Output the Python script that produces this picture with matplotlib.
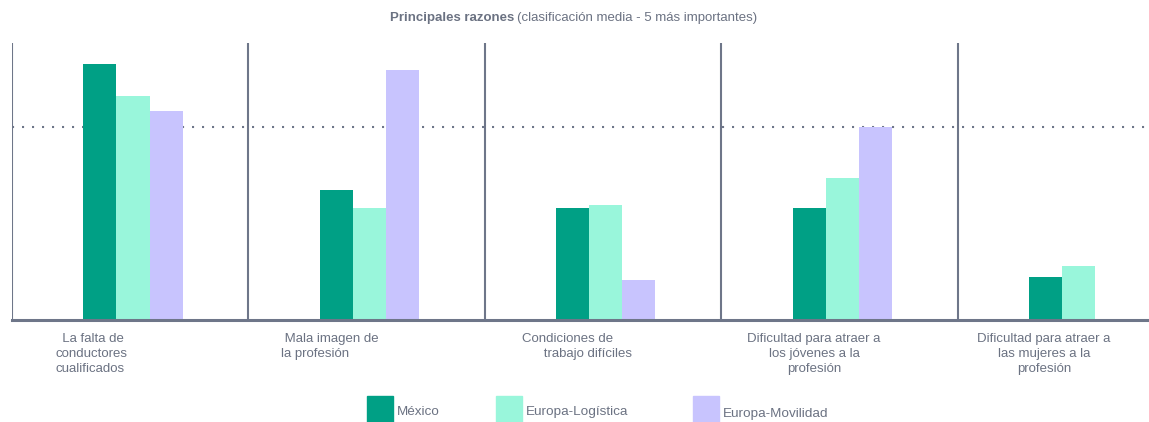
import numpy as np
import matplotlib
matplotlib.use('Agg')
import matplotlib.pyplot as plt
from matplotlib.patches import Rectangle

# values (relative scale, clasificación media)
categories = ['La falta de conductores cualificados', 'Mala imagen de la profesión',
              'Condiciones de trabajo difíciles', 'Dificultad para atraer a los jóvenes a la profesión',
              'Dificultad para atraer a las mujeres a la profesión']
series_names = ['México', 'Europa-Logística', 'Europa-Movilidad']
mexico = [2.56, 1.30, 1.12, 1.12, 0.43]
logistica = [2.24, 1.12, 1.15, 1.42, 0.54]
movilidad = [2.09, 2.50, 0.40, 1.93, np.nan]
reference = 1.93

colors = ['#00a085', '#99f6db', '#c8c4fe']
axis_col = '#6e7689'
text_col = '#6b7282'

plt.rcParams['font.family'] = ['Liberation Sans', 'DejaVu Sans']

W, H = 1149, 422
fig = plt.figure(figsize=(W / 100, H / 100), dpi=100)
# axes runs past the right edge like the original
ax = fig.add_axes([12 / W, (H - 320) / H, (1194 - 12) / W, (320 - 43) / H])

x = np.arange(len(categories))
bw = 0.14
for i, vals in enumerate([mexico, logistica, movilidad]):
    ax.bar(x + (i - 1) * bw + 0.012, vals, width=bw, color=colors[i], linewidth=0, zorder=2)

ax.set_xlim(-0.5, len(categories) - 0.5)
ax.set_ylim(0, 2.77)
for sep in np.arange(-0.5, len(categories) - 0.5, 1.0):
    ax.axvline(sep, color=axis_col, lw=1.5, zorder=3)
ax.axhline(reference, color=axis_col, lw=1.5, ls=(0, (1, 3.8)), zorder=1)

for s in ['top', 'right', 'left']:
    ax.spines[s].set_visible(False)
ax.spines['bottom'].set_color(axis_col)
ax.spines['bottom'].set_linewidth(2.2)
ax.set_xticks([])
ax.set_yticks([])

# category labels (kept with the original's odd line layout)
lab_kw = dict(fontsize=9.5, color=text_col, va='top', linespacing=1.35)
fig.text(55 / W, 1 - 333 / H, '  La falta de\nconductores\ncualificados', ha='left', **lab_kw)
fig.text(281 / W, 1 - 333 / H, ' Mala imagen de\nla profesión', ha='left', **lab_kw)
fig.text(522 / W, 1 - 333 / H, 'Condiciones de\n      trabajo difíciles', ha='left', **lab_kw)
fig.text(814 / W, 1 - 333 / H, 'Dificultad para atraer a\nlos jóvenes a la\nprofesión', ha='center',
         multialignment='center', **lab_kw)
fig.text(1044 / W, 1 - 333 / H, 'Dificultad para atraer a\nlas mujeres a la\nprofesión', ha='center',
         multialignment='center', **lab_kw)

# legend
for name, col, xs, ty in zip(series_names, colors, [367, 496, 693], [412, 412, 414]):
    fig.patches.append(Rectangle((xs / W, 1 - 422 / H), 26 / W, 26 / H, color=col,
                                 transform=fig.transFigure, figure=fig))
    fig.text((xs + 30) / W, 1 - ty / H, name, fontsize=9.7, color=text_col, va='center', ha='left')

# title
fig.text(514 / W, 1 - 18 / H, 'Principales razones', fontsize=9.5, fontweight='bold',
         color=text_col, ha='right', va='center')
fig.text(517 / W, 1 - 18 / H, '(clasificación media - 5 más importantes)', fontsize=9.5,
         color=text_col, ha='left', va='center')

fig.savefig('out.png', dpi=100)
